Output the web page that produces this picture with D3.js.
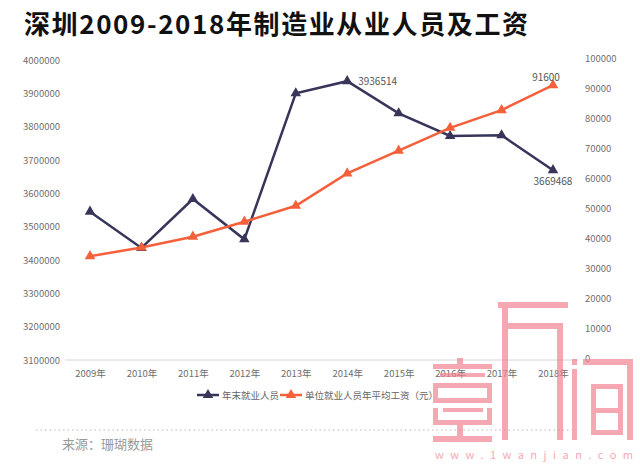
<!DOCTYPE html>
<html>
<head>
<meta charset="utf-8">
<script src="https://cdn.jsdelivr.net/npm/d3@7"></script>
<style>
  body { margin: 0; background: #fff; }
  text { font-family: "Noto Sans CJK SC", "Noto Sans", sans-serif; }
</style>
</head>
<body>
<div id="chart"></div>
<script>
// Data
var years = ["2009年", "2010年", "2011年", "2012年", "2013年", "2014年", "2015年", "2016年", "2017年", "2018年"];
var workers = [3545000, 3436000, 3583000, 3462000, 3900000, 3936514, 3840000, 3772000, 3774000, 3669468];
var wages = [34600, 37500, 41100, 46100, 51400, 62200, 69800, 77400, 83300, 91600];
var leftTicks = [3100000, 3200000, 3300000, 3400000, 3500000, 3600000, 3700000, 3800000, 3900000, 4000000];
var rightTicks = [0, 10000, 20000, 30000, 40000, 50000, 60000, 70000, 80000, 90000, 100000];
var seriesNames = ["年末就业人员", "单位就业人员年平均工资（元）"];
var titleText = "深圳2009-2018年制造业从业人员及工资";
var sourceText = "来源：珊瑚数据";

var svgWidth = 640;
var svgHeight = 470;
var darkColor = "#37365a";
var orangeColor = "#f55f3a";
var pink = "#f27f8e";

var svg = d3.select("#chart")
    .append("svg")
    .attr("width", svgWidth)
    .attr("height", svgHeight);

// Scales
var xScale = d3.scalePoint()
    .domain(years)
    .range([90, 553]);
var yLeft = d3.scaleLinear()
    .domain([3100000, 4000000])
    .range([360, 60]);
var yRight = d3.scaleLinear()
    .domain([0, 100000])
    .range([360, 60]);

// Title
svg.append("text")
    .attr("x", 24)
    .attr("y", 34)
    .attr("font-size", "26px")
    .attr("font-weight", "bold")
    .attr("fill", "#111")
    .attr("textLength", 504)
    .attr("lengthAdjust", "spacing")
    .text(titleText);

// Axes
var leftAxis = d3.axisLeft(yLeft).tickValues(leftTicks).tickSize(0).tickPadding(0).tickFormat(d3.format("d"));
var rightAxis = d3.axisRight(yRight).tickValues(rightTicks).tickSize(0).tickPadding(0).tickFormat(d3.format("d"));
var bottomAxis = d3.axisBottom(xScale).tickSize(0).tickPadding(10);

var gl = svg.append("g").attr("transform", "translate(60,0)").call(leftAxis);
var gr = svg.append("g").attr("transform", "translate(585,0)").call(rightAxis);
var gb = svg.append("g").attr("transform", "translate(0,360)").call(bottomAxis);

[gl, gr, gb].forEach(function(g) {
    g.select(".domain").remove();
    g.selectAll("text")
        .attr("font-family", "\"Noto Sans CJK SC\", \"Noto Sans\", sans-serif")
        .attr("font-size", "9.5px")
        .attr("fill", "#6e6e6e");
});
gr.selectAll("text").attr("dy", "0.2em");

svg.append("line")
    .attr("x1", 65).attr("x2", 579)
    .attr("y1", 360).attr("y2", 360)
    .attr("stroke", "#d6d6d6")
    .attr("stroke-width", 1);

// Lines and markers
var lineLeft = d3.line()
    .x(function(d, i) { return xScale(years[i]); })
    .y(function(d) { return yLeft(d); });
var lineRight = d3.line()
    .x(function(d, i) { return xScale(years[i]); })
    .y(function(d) { return yRight(d); });

svg.append("path")
    .attr("d", lineLeft(workers))
    .attr("fill", "none")
    .attr("stroke", darkColor)
    .attr("stroke-width", 2.5);
svg.append("path")
    .attr("d", lineRight(wages))
    .attr("fill", "none")
    .attr("stroke", orangeColor)
    .attr("stroke-width", 2.5);

var tri = d3.symbol().type(d3.symbolTriangle).size(48);

svg.selectAll(".mk-left")
    .data(workers)
    .enter()
    .append("path")
    .attr("class", "mk-left")
    .attr("d", tri)
    .attr("transform", function(d, i) { return "translate(" + xScale(years[i]) + "," + yLeft(d) + ")"; })
    .attr("fill", darkColor);

svg.selectAll(".mk-right")
    .data(wages)
    .enter()
    .append("path")
    .attr("class", "mk-right")
    .attr("d", tri)
    .attr("transform", function(d, i) { return "translate(" + xScale(years[i]) + "," + yRight(d) + ")"; })
    .attr("fill", orangeColor);

// Data labels
svg.append("text")
    .attr("x", xScale(years[5]) + 11)
    .attr("y", yLeft(workers[5]) + 4)
    .attr("font-size", "10px")
    .attr("fill", "#555")
    .text(workers[5]);
svg.append("text")
    .attr("x", xScale(years[9]))
    .attr("y", yLeft(workers[9]) + 15)
    .attr("text-anchor", "middle")
    .attr("font-size", "10px")
    .attr("fill", "#555")
    .text(workers[9]);
svg.append("text")
    .attr("x", xScale(years[9]) - 7)
    .attr("y", yRight(wages[9]) - 4)
    .attr("text-anchor", "middle")
    .attr("font-size", "10px")
    .attr("fill", "#555")
    .text(wages[9]);

// Legend
var legend = svg.append("g").attr("transform", "translate(197,395)");
var legendX = [0, 83];
var legendColors = [darkColor, orangeColor];
seriesNames.forEach(function(name, i) {
    var g = legend.append("g").attr("transform", "translate(" + legendX[i] + ",0)");
    g.append("line")
        .attr("x1", 0).attr("x2", 22)
        .attr("y1", 0).attr("y2", 0)
        .attr("stroke", legendColors[i])
        .attr("stroke-width", 2.5);
    g.append("path")
        .attr("d", tri)
        .attr("transform", "translate(11,0)")
        .attr("fill", legendColors[i]);
    g.append("text")
        .attr("x", 25)
        .attr("y", 4)
        .attr("font-size", "9.5px")
        .attr("fill", "#666")
        .text(name);
});

// Source with dotted rule
svg.append("line")
    .attr("x1", 36).attr("x2", 572)
    .attr("y1", 430).attr("y2", 430)
    .attr("stroke", "#cfcfcf")
    .attr("stroke-width", 1.5)
    .attr("stroke-dasharray", "1.5,3");
svg.append("text")
    .attr("x", 62)
    .attr("y", 449)
    .attr("font-size", "13px")
    .attr("fill", "#9a9a9a")
    .text(sourceText);

// Watermark blocks
var wm = svg.append("g").attr("fill", pink).attr("opacity", 0.68);
var blocks = [
    // first glyph
    [457, 358, 6, 8], [433, 364, 59, 5], [440, 373, 45, 4], [433, 383, 59, 5],
    [433, 383, 5, 20], [487, 383, 5, 20], [433, 398, 59, 5], [443, 408, 40, 4],
    [433, 408, 5, 16], [487, 408, 5, 16], [433, 420, 59, 5], [457, 425, 6, 11], [433, 436, 59, 6],
    // second glyph
    [498, 302, 70, 6], [502, 308, 6, 132], [508, 323, 55, 6], [557, 329, 6, 111],
    // third glyph
    [572, 359, 5, 6], [572, 369, 5, 71], [583, 359, 50, 6], [627, 365, 6, 75],
    [591, 384, 32, 5], [591, 389, 5, 46], [618, 389, 5, 46], [596, 408, 22, 5], [596, 430, 22, 5]
];
wm.selectAll("rect")
    .data(blocks)
    .enter()
    .append("rect")
    .attr("x", function(d) { return d[0]; })
    .attr("y", function(d) { return d[1]; })
    .attr("width", function(d) { return d[2]; })
    .attr("height", function(d) { return d[3]; });
svg.append("text")
    .attr("x", 435)
    .attr("y", 459)
    .attr("font-family", "\"Liberation Sans\", sans-serif")
    .attr("font-size", "11px")
    .attr("fill", pink)
    .attr("opacity", 0.68)
    .attr("textLength", 198)
    .attr("lengthAdjust", "spacing")
    .text("www.1wanjian.com");
</script>
</body>
</html>
